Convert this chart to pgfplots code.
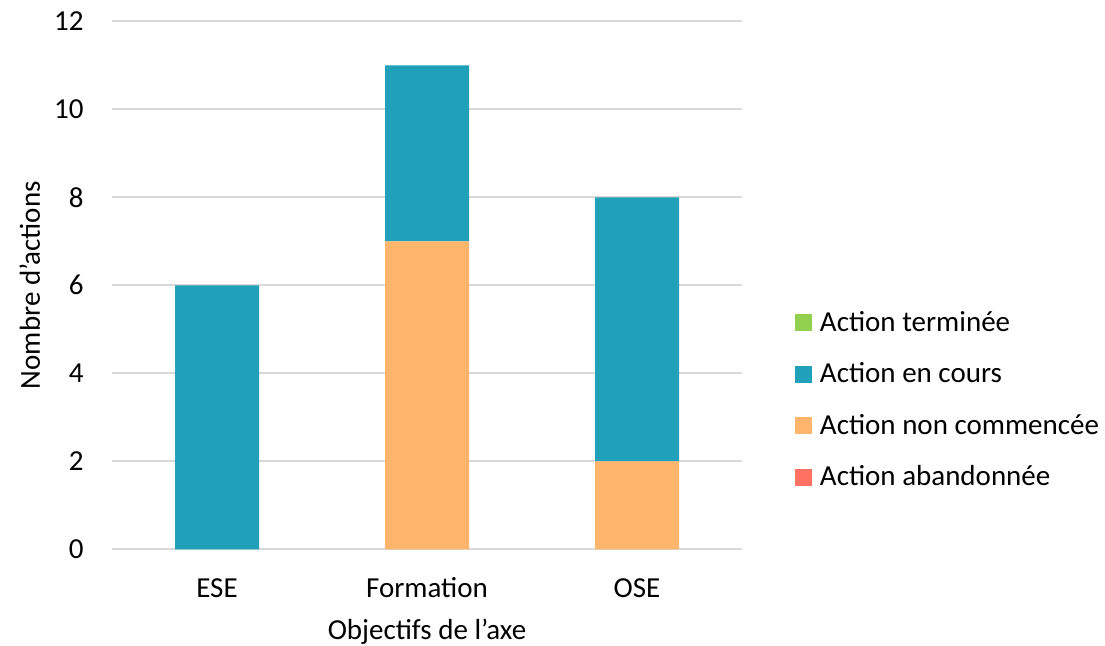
\documentclass[border=0pt]{standalone}
\usepackage{fontspec}
\setmainfont{Carlito}
\usepackage{pgfplots}
\pgfplotsset{compat=1.18}

\definecolor{cTerminee}{HTML}{92D050}
\definecolor{cEnCours}{HTML}{21A0B9}
\definecolor{cNonCommencee}{HTML}{FFB66C}
\definecolor{cAbandonnee}{HTML}{FF7163}
\definecolor{cGrid}{HTML}{D9D9D9}

\newcommand{\chartfont}{\fontsize{14.5}{17}\selectfont}

\begin{document}
\begin{tikzpicture}
  \begin{axis}[
    scale only axis,
    width=315pt, height=264pt,
    ybar stacked,
    bar width=0.4,
    xmin=-0.5, xmax=2.5,
    ymin=0, ymax=12,
    xtick=data,
    xticklabels={ESE, Formation, OSE},
    ytick={0,2,...,12},
    major tick length=0pt,
    axis line style={draw=none},
    ymajorgrids,
    grid style={cGrid, line width=0.9pt},
    /pgf/number format/assume math mode=true,
    xticklabel style={font=\chartfont, anchor=base, inner sep=0pt, yshift=-24pt},
    yticklabel style={font=\chartfont, anchor=east, inner sep=0pt, xshift=-14pt},
    xlabel={Objectifs de l’axe},
    ylabel={Nombre d’actions},
    xlabel style={font=\chartfont, at={(rel axis cs:0.5,-0.1718)}, anchor=base, inner sep=0pt},
    ylabel style={font=\chartfont, at={(rel axis cs:-0.1143,0.5)}, anchor=base, inner sep=0pt},
    reverse legend,
    legend image code/.code={\fill[#1] (0pt,0pt) rectangle (8.5pt,8.5pt);},
    legend style={
      at={(rel axis cs:1.0841,0.4504)}, anchor=north west,
      draw=none, fill=none, inner sep=0pt, outer sep=0pt,
      font=\chartfont,
      cells={anchor=base west},
      nodes={inner sep=0pt, text height=10pt, text depth=3pt},
      row sep=12.7pt, column sep=4pt,
    },
    clip=false,
  ]
    \addplot[fill=cAbandonnee, draw=none] coordinates {(0,0) (1,0) (2,0)};
    \addplot[fill=cNonCommencee, draw=none] coordinates {(0,0) (1,7) (2,2)};
    \addplot[fill=cEnCours, draw=none] coordinates {(0,6) (1,4) (2,6)};
    \addplot[fill=cTerminee, draw=none] coordinates {(0,0) (1,0) (2,0)};
    \legend{Action abandonnée, Action non commencée, Action en cours, Action terminée}
    \coordinate (bbBL) at (rel axis cs:-0.1778,-0.1831);
    \coordinate (bbTR) at (rel axis cs:1.5762,1.0403);
  \end{axis}
  \pgfresetboundingbox
  \path (bbBL) rectangle (bbTR);
\end{tikzpicture}
\end{document}
